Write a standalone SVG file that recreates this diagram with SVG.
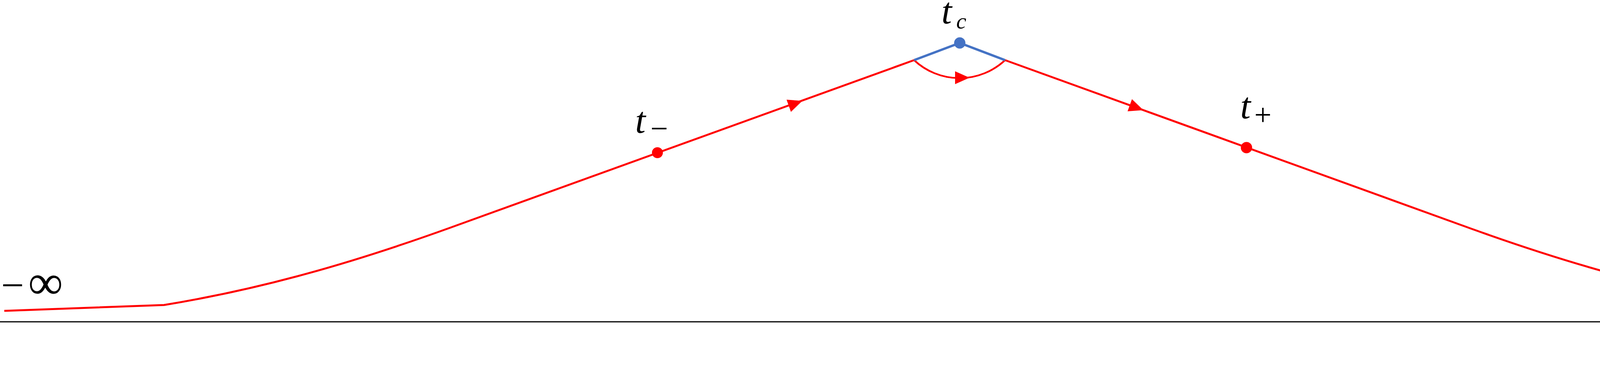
<svg xmlns="http://www.w3.org/2000/svg" width="5192" height="950" viewBox="0 0 5192 950">
<style>
.red{fill:none;stroke:#FF0000;stroke-width:5;}
.arc{fill:none;stroke:#FF0000;stroke-width:4.5;}
.blue{fill:none;stroke:#4472C4;stroke-width:6;}
.axis{fill:none;stroke:#000;stroke-width:3;}
.math{font-family:"Liberation Serif","Times New Roman",serif;fill:#000;}
.it{font-style:italic;}
</style>
<defs>
<path id="ah" d="M0,0 L-37,-16.5 L-37,16.5 Z" fill="#FF0000"/>
</defs>
<rect width="5192" height="950" fill="#fff"/>
<g id="axis">
<line class="axis" x1="0" y1="824" x2="5133" y2="824"/>
<polygon points="5131,811 5158,824 5131,837" fill="#000"/>
<text class="math" x="5026" y="945" font-size="96">Re<tspan class="it" x="5160">t</tspan></text>
</g>
<g id="connectors">
<path class="red" d="M11,796 L420,781 C670,740 900,674 1150,584 L2340,154"/>
<path class="red" d="M2573,154 L3762,584 C4012,674 4242,740 4492,781 L4901,796"/>
<path class="arc" d="M2340,154 A170.5,170.5 0 0 0 2573,154"/>
<path class="blue" d="M2340,154 L2457,110 L2573,154"/>
<use href="#ah" transform="translate(2054,258.3) rotate(-19.85)"/>
<use href="#ah" transform="translate(2927,282) rotate(19.9)"/>
<use href="#ah" transform="translate(2482,199) rotate(0)"/>
</g>
<g id="node-t-minus">
<circle cx="1683" cy="391" r="14" fill="#FF0000"/>
<text class="math" y="340"><tspan class="it" x="1626" font-size="96">t</tspan><tspan x="1665" y="356" font-size="80">−</tspan></text>
</g>
<g id="node-t-c">
<circle cx="2457" cy="110" r="14.5" fill="#4472C4"/>
<text class="math" y="60"><tspan class="it" x="2410" font-size="96">t</tspan><tspan class="it" x="2448" y="73" font-size="58">c</tspan></text>
</g>
<g id="node-t-plus">
<circle cx="3191" cy="378" r="14.5" fill="#FF0000"/>
<text class="math" y="303"><tspan class="it" x="3175" font-size="96">t</tspan><tspan x="3211" y="320" font-size="78">+</tspan></text>
</g>
<g id="label-minus-inf">
<text class="math" y="765"><tspan x="3" font-size="104">−</tspan><tspan x="72" font-size="125">∞</tspan></text>
</g>
<g id="label-inf">
<text class="math" x="5080" y="741" font-size="125">∞</text>
</g>
</svg>
